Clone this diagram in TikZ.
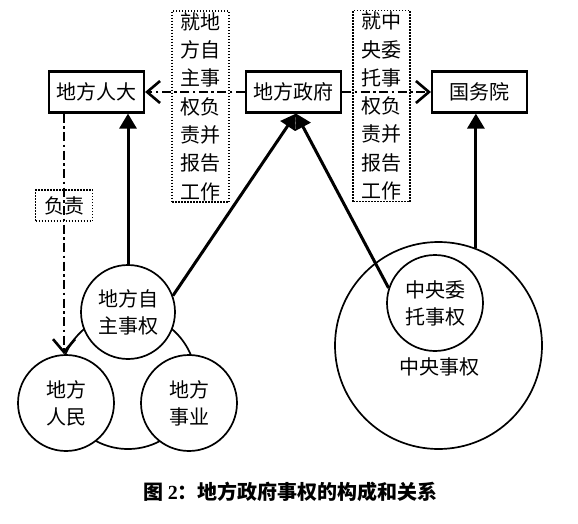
\documentclass[tikz,border=0pt]{standalone}
\usepackage{fontspec}
\setmainfont{Noto Sans CJK SC}
\newfontfamily\tnr{Liberation Serif}
\usetikzlibrary{arrows.meta, positioning}

\begin{document}
\begin{tikzpicture}[x=1pt, y=-1pt,
      box/.style={draw, line width=2.1pt, minimum width=95pt, minimum height=41pt, inner sep=0pt, font=\fontsize{20}{24}\selectfont},
      note/.style={draw, line width=1.5pt, dash pattern=on 1.5pt off 1.5pt, align=center, text width=40pt, inner xsep=8.5pt, inner ysep=1.5pt, font=\fontsize{20}{28.3}\selectfont},
      ring/.style={draw, circle, line width=1.7pt, fill=white, inner sep=0pt, align=center, font=\fontsize{20}{27}\selectfont},
      dashar/.style={-{Straight Barb[length=13pt, width=22pt, line width=2.6pt]}, line width=2.6pt, dash pattern=on 9pt off 3.5pt on 2.5pt off 3.5pt},
      ar/.style={-{Triangle[length=15pt, width=17pt]}, line width=3pt}
    ]
    \useasboundingbox (0,0) rectangle (578,524);
    % top row
    \node[box] (renda) at (96.5,92) {地方人大};
    \node[box] (lgov) at (293.5,92) {地方政府};
    \node[box] (council) at (479.5,92) {国务院};
    \node[note] (noteL) at (200.5,106.5) {就地\\方自\\主事\\权负\\责并\\报告\\工作};
    \node[note] (noteR) at (381.5,106) {就中\\央委\\托事\\权负\\责并\\报告\\工作};
    \node[note, text width=, minimum width=57pt, minimum height=31pt, inner sep=0pt] (duty) at (64,205.5) {负责};
    % local powers
    \node[ring, minimum size=136pt] (cBig) at (128,381) {};
    \node[ring, minimum size=94pt] (cLocal) at (128,312) {地方自\\主事权};
    \node[ring, minimum size=96pt] (cPeople) at (66,403) {地方\\人民};
    \node[ring, minimum size=96pt] (cAffair) at (189,403) {地方\\事业};
    % central powers
    \node[ring, fill=none, minimum size=207pt] (cCentral) at (438.5,345.5) {};
    \node[ring, minimum size=96pt] (cEntrust) at (435,303) {中央委\\托事权};
    \node[font=\fontsize{20}{24}\selectfont] (cTag) at (439,367) {中央事权};
    % connectors
    \draw[dashar] (lgov.west) -- (renda.east);
    \draw[dashar] (lgov.east) -- (council.west);
    \draw[dashar] (renda.south -| duty) -- (duty |- cPeople.north);
    \draw[ar] (cLocal.north) -- (cLocal.north |- renda.south);
    \draw[ar] (cLocal.20) -- ([xshift=2.5pt]lgov.south);
    \draw[ar] (cEntrust.162) -- ([xshift=2.5pt]lgov.south);
    \draw[ar] (cCentral.69) -- (cCentral.69 |- council.south);
    \node[font=\fontsize{20}{24}\selectfont\bfseries] (cap) at (290.5,492) {图 {\tnr 2}：地方政府事权的构成和关系};
  \end{tikzpicture}
\end{document}
